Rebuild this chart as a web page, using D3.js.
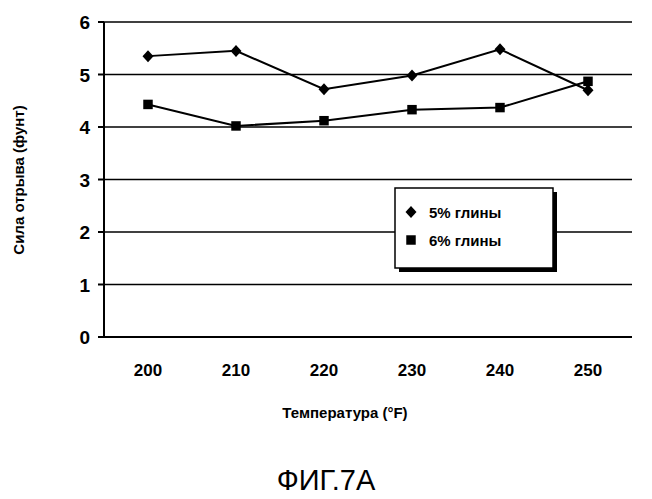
<!DOCTYPE html><html><head><meta charset="utf-8">
<script src="https://cdn.jsdelivr.net/npm/d3@7"></script>
<style>body{margin:0;background:#fff}text{font-family:"Liberation Sans",Arial,sans-serif}</style>
</head><body><svg id="c" width="652" height="499"></svg>
<script>
const categories=["200","210","220","230","240","250"];
const clay5=[5.35,5.45,4.72,4.98,5.48,4.7];
const clay6=[4.43,4.02,4.12,4.33,4.37,4.87];
const yTicks=[0,1,2,3,4,5,6];
const seriesNames=["5% глины","6% глины"];
const svg=d3.select("#c");
const L=104,R=632,T=22,B=337;
const x=d3.scalePoint().domain(categories).range([L,R]).padding(0.5);
const y=d3.scaleLinear().domain([0,6]).range([B,T]);
const diamond="M0,-6L5.5,0L0,6L-5.5,0Z";
svg.append("g").selectAll("line").data(yTicks.slice(1)).join("line")
 .attr("x1",L).attr("x2",R).attr("y1",d=>y(d)).attr("y2",d=>y(d)).attr("stroke","#000").attr("stroke-width",1.5);
svg.append("line").attr("x1",L).attr("x2",L).attr("y1",T).attr("y2",B).attr("stroke","#000").attr("stroke-width",2);
svg.append("line").attr("x1",L).attr("x2",R).attr("y1",B).attr("y2",B).attr("stroke","#000").attr("stroke-width",2);
svg.append("g").selectAll("line").data(yTicks).join("line").attr("x1",L-6).attr("x2",L).attr("y1",d=>y(d)).attr("y2",d=>y(d)).attr("stroke","#000").attr("stroke-width",2);
svg.append("g").selectAll("text").data(yTicks).join("text").attr("x",L-14).attr("y",d=>y(d)+7).attr("text-anchor","end").attr("font-size",19).attr("font-weight","bold").text(d=>d);
svg.append("g").selectAll("text").data(categories).join("text").attr("x",d=>x(d)).attr("y",376).attr("text-anchor","middle").attr("font-size",17).attr("font-weight","bold").text(d=>d);
const line=d3.line().x((d,i)=>x(categories[i])).y(d=>y(d));
[clay5,clay6].forEach((s,k)=>{
 svg.append("path").attr("d",line(s)).attr("fill","none").attr("stroke","#000").attr("stroke-width",2);
 svg.append("g").selectAll("path").data(s).join("path")
  .attr("transform",(d,i)=>`translate(${x(categories[i])},${y(d)})`)
  .attr("d",k?d3.symbol(d3.symbolSquare,90)():diamond).attr("fill","#000");
});
const lg=svg.append("g").attr("transform","translate(395,188)");
lg.append("rect").attr("x",4).attr("y",4).attr("width",158).attr("height",80).attr("fill","#000");
lg.append("rect").attr("width",158).attr("height",80).attr("fill","#fff").attr("stroke","#000").attr("stroke-width",1.5);
seriesNames.forEach((n,k)=>{
 lg.append("path").attr("transform",`translate(16,${24+k*28})`).attr("d",k?d3.symbol(d3.symbolSquare,90)():diamond).attr("fill","#000");
 lg.append("text").attr("x",34).attr("y",30+k*28).attr("font-size",15).attr("font-weight","bold").text(n);
});
svg.append("text").attr("transform","translate(24,180) rotate(-90)").attr("text-anchor","middle").attr("font-size",15).attr("font-weight","bold").text("Сила отрыва (фунт)");
svg.append("text").attr("x",345).attr("y",418).attr("text-anchor","middle").attr("font-size",15).attr("font-weight","bold").text("Температура (°F)");
svg.append("text").attr("x",326).attr("y",490).attr("text-anchor","middle").attr("font-size",29).text("ФИГ.7А");
</script></body></html>
